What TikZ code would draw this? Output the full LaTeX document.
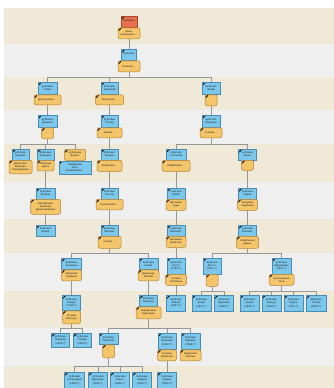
\documentclass[tikz,border=0pt]{standalone}
\usepackage{fontspec}
\newfontfamily\dfont{Liberation Sans}
\definecolor{bandA}{RGB}{241,233,216}
\definecolor{bandB}{RGB}{239,239,239}
\definecolor{bluef}{RGB}{124,200,236}
\definecolor{blued}{RGB}{70,140,180}
\definecolor{orf}{RGB}{245,197,106}
\definecolor{ord}{RGB}{176,130,52}
\definecolor{redf}{RGB}{232,112,76}
\definecolor{redd}{RGB}{170,72,46}
\definecolor{linec}{RGB}{150,150,150}
\tikzset{
  lk/.style={draw=linec, line width=0.8pt},
  pen/.style={path picture={\draw[black,line width=0.9pt] ([xshift=0.6pt,yshift=-3pt]path picture bounding box.north west) -- ([xshift=3pt,yshift=-0.6pt]path picture bounding box.north west);}},
  base/.style={pen, line width=0.5pt, inner sep=0.3pt, align=center, anchor=north, text=black!85,
    font=\dfont\fontsize{2.6}{3.1}\selectfont},
  bl/.style={base, draw=blued, fill=bluef},
  orb/.style={base, draw=ord, fill=orf, rounded corners=2pt},
  rd/.style={base, draw=redd, fill=redf},
}
\begin{document}
\begin{tikzpicture}[x=1pt,y=-1pt]
\useasboundingbox (0,0) rectangle (334,388);
\fill[white] (0,0) rectangle (334,388);
\foreach \a/\b/\c in {8/44/bandA,44/77/bandB,77/110/bandA,110/144/bandB,144/182/bandA,182/219/bandB,219/253/bandA,253/291/bandB,291/328/bandA,328/366/bandB,366/388/bandA}
  \fill[\c] (4,\a) rectangle (334,\b);

% generation 1-2
\node[rd,minimum width=16pt,minimum height=11pt] (r) at (129,16) {Кубатиев\\~};
\node[orb,minimum width=22pt,minimum height=11pt] (rs) at (r.south) {Крым-\\шамхалова ...};
\node[bl,minimum width=15pt,minimum height=11pt] (g) at (129,49) {Кубатиев\\~};
\node[orb,minimum width=22pt,minimum height=11pt] (gs) at (g.south) {Бекиева ...};

% generation 3
\node[bl,minimum width=19pt,minimum height=12pt] (A) at (47.5,82) {Кубатиев\\Сабан};
\node[orb,minimum width=27pt,minimum height=10pt] (As) at (A.south) {Давлетукова ...};
\node[bl,minimum width=17pt,minimum height=12pt] (B) at (109.5,82) {Кубатиев\\Темирбий};
\node[orb,minimum width=28pt,minimum height=10pt] (Bs) at (B.south) {Урусбиева ...};
\node[bl,minimum width=18pt,minimum height=12pt] (C) at (211,82) {Кубатиев\\Зорай};
\node[orb,minimum width=12pt,minimum height=11pt] (Cs) at (C.south) {...};

% generation 4
\node[bl,minimum width=19pt,minimum height=12pt] (A4) at (47.5,115) {Кубатиев\\Джанкиш};
\node[orb,minimum width=12pt,minimum height=11pt] (A4s) at (A4.south) {...};
\node[bl,minimum width=17pt,minimum height=12pt] (B4) at (109.5,115) {Кубатиев\\Тохтар};
\node[orb,minimum width=25pt,minimum height=10pt] (B4s) at (B4.south) {Акиева ...};
\node[bl,minimum width=18pt,minimum height=12pt] (C4) at (211,115) {Кубатиев\\Абубекир};
\node[orb,minimum width=22pt,minimum height=10pt] (C4s) at (C4.south) {Гулиева ...};

% generation 5
\node[bl,minimum width=17pt,minimum height=10.5pt] (A1) at (20.5,149) {Кубатиев\\Канамат};
\node[orb,minimum width=23pt,minimum height=13.5pt] (A1s) at (A1.south) {Джантуева\\Мансура\\Магомедовна};
\node[bl,minimum width=16.5pt,minimum height=10.5pt] (A2) at (45.5,149) {Кубатиев\\Алимурза};
\node[orb,minimum width=17pt,minimum height=10.5pt] (A2s) at (A2.south) {Мисакова\\Данга};
\node[orb,rounded corners=1pt,minimum width=21pt,minimum height=11pt] (A3) at (75,149) {Кубатиева\\Далиях};
\node[bl,minimum width=32pt,minimum height=13pt] (A3s) at (A3.south) {Карабугаев\\Бета\\Алмасбиевич...};
\node[bl,minimum width=17pt,minimum height=10.5pt] (B5) at (109.5,149) {Кубатиев\\Исмаил};
\node[orb,minimum width=25pt,minimum height=11pt] (B5s) at (B5.south) {Казбекова ...};
\node[bl,minimum width=20pt,minimum height=10.5pt] (C1) at (176,149) {Кубатиев\\Султанбек};
\node[orb,minimum width=28pt,minimum height=11pt] (C1s) at (C1.south) {Абайбокова ...};
\node[bl,minimum width=18pt,minimum height=10.5pt] (C2) at (247.5,149) {Кубатиев\\Батал};
\node[orb,minimum width=12pt,minimum height=10pt] (C2s) at (C2.south) {...};

% generation 6
\node[bl,minimum width=19pt,minimum height=10.5pt] (A6) at (45.5,188) {Кубатиев\\Мазбай};
\node[orb,minimum width=30pt,minimum height=15pt] (A6s) at (A6.south) {Карабугаева\\Эльбечер\\Джантемировна};
\node[bl,minimum width=17pt,minimum height=10.5pt] (B6) at (109.5,188) {Кубатиев\\Сантар};
\node[orb,minimum width=27pt,minimum height=10.5pt] (B6s) at (B6.south) {Кушантаева ...};
\node[bl,minimum width=18pt,minimum height=10.5pt] (C16) at (176,188) {Кубатиев\\Зораб};
\node[orb,minimum width=20pt,minimum height=11pt] (C16s) at (C16.south) {Мисакова\\Гудан};
\node[bl,minimum width=18pt,minimum height=10.5pt] (C26) at (247.5,188) {Кубатиев\\Хаджи};
\node[orb,minimum width=20pt,minimum height=11pt] (C26s) at (C26.south) {Бекорова\\Надимхан};

% generation 7
\node[bl,minimum width=19pt,minimum height=10.5pt] (A7) at (45.5,225) {Кубатиев\\Акмер};
\node[bl,minimum width=17pt,minimum height=10.5pt] (B7) at (109.5,225) {Кубатиев\\Магомет};
\node[orb,minimum width=23pt,minimum height=12pt] (B7s) at (B7.south) {Отуева ...};
\node[bl,minimum width=18pt,minimum height=10.5pt] (C17) at (176,225) {Кубатиев\\Бекболат};
\node[orb,minimum width=20pt,minimum height=11pt] (C17s) at (C17.south) {Мисакова\\Долатхан};
\node[bl,minimum width=18pt,minimum height=10.5pt] (C27) at (247.5,225) {Кубатиев\\Магомет};
\node[orb,minimum width=22pt,minimum height=12pt] (C27s) at (C27.south) {Абайбокова\\Джена};

% generation 8
\node[bl,minimum width=20pt,minimum height=11pt] (B1) at (71.5,258) {Кубатиев\\Залимхан};
\node[orb,minimum width=20pt,minimum height=11pt] (B1s) at (B1.south) {Мисакова\\Гурмизан};
\node[bl,minimum width=19pt,minimum height=11pt] (B2) at (148.5,258) {Кубатиев\\Касай};
\node[orb,minimum width=21pt,minimum height=11pt] (B2s) at (B2.south) {Дзадзиева\\Фатима};
\node[bl,minimum width=18.5pt,minimum height=15.5pt] (C18) at (176,258) {Кубатиев\\Батта\\(1796-?)};
\node[orb,minimum width=21pt,minimum height=11pt] (C18s) at (C18.south) {Гутаева\\Татланкан};
\node[bl,minimum width=18.5pt,minimum height=15.5pt] (M1) at (212,258) {Кубатиев\\Мусса\\(1811-?)};
\node[orb,minimum width=12pt,minimum height=12pt] (M1s) at (M1.south) {...};
\node[bl,minimum width=19pt,minimum height=15.5pt] (M2) at (281.5,258) {Кубатиев\\Абдурахман\\(1814-?)};
\node[orb,minimum width=25pt,minimum height=11pt] (M2s) at (M2.south) {Кантемирова\\Гаса};

% generation 9
\node[bl,minimum width=18pt,minimum height=15pt] (I) at (71.5,295) {Кубатиев\\Иналук\\(1795-?)};
\node[orb,minimum width=18pt,minimum height=13pt] (Is) at (I.south) {Гутаева\\Батагуза};
\node[bl,minimum width=18pt,minimum height=11pt] (T) at (148.5,295) {Кубатиев\\Тембулат};
\node[orb,minimum width=25pt,minimum height=12pt] (Ts) at (T.south) {Карабугаева\\Картандан};
\node[bl,minimum width=19pt,minimum height=15.5pt] (Ab) at (176,295) {Кубатиев\\Абисал\\(1827-?)};
\node[bl,minimum width=19pt,minimum height=16pt] (Bk) at (201.5,295) {Кубатиев\\Бекир\\(1837-?)};
\node[bl,minimum width=19pt,minimum height=16pt] (Mz) at (224,295) {Кубатиев\\Мурзабек\\(1846-?)};
\node[bl,minimum width=19pt,minimum height=16pt] (Il) at (249.5,295) {Кубатиев\\Ислам\\(1849-?)};
\node[bl,minimum width=19pt,minimum height=16pt] (Kn) at (271.5,295) {Кубатиев\\Канцау\\(1853-?)};
\node[bl,minimum width=19pt,minimum height=16pt] (Mr) at (293.5,295) {Кубатиев\\Мурза\\(1857-?)};
\node[bl,minimum width=19.5pt,minimum height=16pt] (Tx) at (316,295) {Кубатиев\\Тохтар\\(1858-?)};

% generation 10
\node[bl,minimum width=18pt,minimum height=14pt] (T1) at (60.5,333) {Кубатиев\\Тембулат\\(1826-?)};
\node[bl,minimum width=18pt,minimum height=14pt] (Sf) at (82.5,333) {Кубатиев\\Сафар\\(1835-?)};
\node[bl,minimum width=19pt,minimum height=11pt] (Kb) at (108.5,333) {Кубатиев\\Камболат};
\node[orb,minimum width=12pt,minimum height=13pt] (Kbs) at (Kb.south) {...};
\node[bl,minimum width=18pt,minimum height=16pt] (Asl) at (167,333) {Кубатиев\\Асланбек\\(1820-?)};
\node[orb,minimum width=19pt,minimum height=11pt] (Asls) at (Asl.south) {Гутаева\\Долатхан};
\node[bl,minimum width=18.5pt,minimum height=16pt] (Mg) at (190.5,333) {Кубатиев\\Магомет\\(1828-?)};
\node[orb,minimum width=21pt,minimum height=11pt] (Mgs) at (Mg.south) {Дзарахова\\Фатима};

% generation 11
\node[bl,minimum width=20pt,minimum height=16pt] (K1) at (74.5,372) {Кубатиев\\Аслангерий\\(1849-?)};
\node[bl,minimum width=19pt,minimum height=16pt] (K2) at (98,372) {Кубатиев\\Мурзабек\\(1846-?)};
\node[bl,minimum width=19pt,minimum height=16pt] (K3) at (120,372) {Кубатиев\\Ильяс\\(1848-?)};
\node[bl,minimum width=19pt,minimum height=16pt] (K4) at (142,372) {Кубатиев\\Тамарот\\(1852-?)};
\node[bl,minimum width=19pt,minimum height=16pt] (Hm) at (167,372) {Кубатиев\\Хаммат\\(1849-?)};

% bars
\coordinate (y3) at (0,77.5);
\coordinate (y5) at (0,144);
\coordinate (y8) at (0,253);
\coordinate (y9) at (0,291);
\coordinate (y10) at (0,328);
\coordinate (y11) at (0,366.5);

\begin{scope}[on background layer/.style={}]
\draw[lk] (rs.south) -- (g.north);
\foreach \c in {A,B,C} \draw[lk] (gs.south) -- (gs.south |- y3) -| (\c.north);
\draw[lk] (As.south) -- (A4.north);
\draw[lk] (Bs.south) -- (B4.north);
\draw[lk] (Cs.south) -- (C4.north);
\foreach \c in {A1,A2,A3} \draw[lk] (A4s.south) -- (A4s.south |- y5) -| (\c.north);
\draw[lk] (B4s.south) -- (B5.north);
\foreach \c in {C1,C2} \draw[lk] (C4s.south) -- (C4s.south |- y5) -| (\c.north);
\draw[lk] (A2s.south) -- (A6.north);
\draw[lk] (A6s.south) -- (A7.north);
\draw[lk] (B5s.south) -- (B6.north);
\draw[lk] (B6s.south) -- (B7.north);
\draw[lk] (C1s.south) -- (C16.north);
\draw[lk] (C16s.south) -- (C17.north);
\draw[lk] (C17s.south) -- (C18.north);
\draw[lk] (C2s.south) -- (C26.north);
\draw[lk] (C26s.south) -- (C27.north);
\foreach \c in {B1,B2} \draw[lk] (B7s.south) -- (B7s.south |- y8) -| (\c.north);
\foreach \c in {M1,M2} \draw[lk] (C27s.south) -- (C27s.south |- y8) -| (\c.north);
\draw[lk] (B1s.south) -- (I.north);
\draw[lk] (B2s.south) -- (T.north);
\draw[lk] (C18s.south) -- (Ab.north);
\foreach \c in {Bk,Mz} \draw[lk] (M1s.south) -- (M1s.south |- y9) -| (\c.north);
\foreach \c in {Il,Kn,Mr,Tx} \draw[lk] (M2s.south) -- (M2s.south |- y9) -| (\c.north);
\foreach \c in {T1,Sf} \draw[lk] (Is.south) -- (Is.south |- y10) -| (\c.north);
\foreach \c in {Kb,Asl,Mg} \draw[lk] (Ts.south) -- (Ts.south |- y10) -| (\c.north);
\foreach \c in {K1,K2,K3,K4} \draw[lk] (Kbs.south) -- (Kbs.south |- y11) -| (\c.north);
\draw[lk] (Asls.south) -- (Hm.north);
\end{scope}
\end{tikzpicture}
\end{document}
